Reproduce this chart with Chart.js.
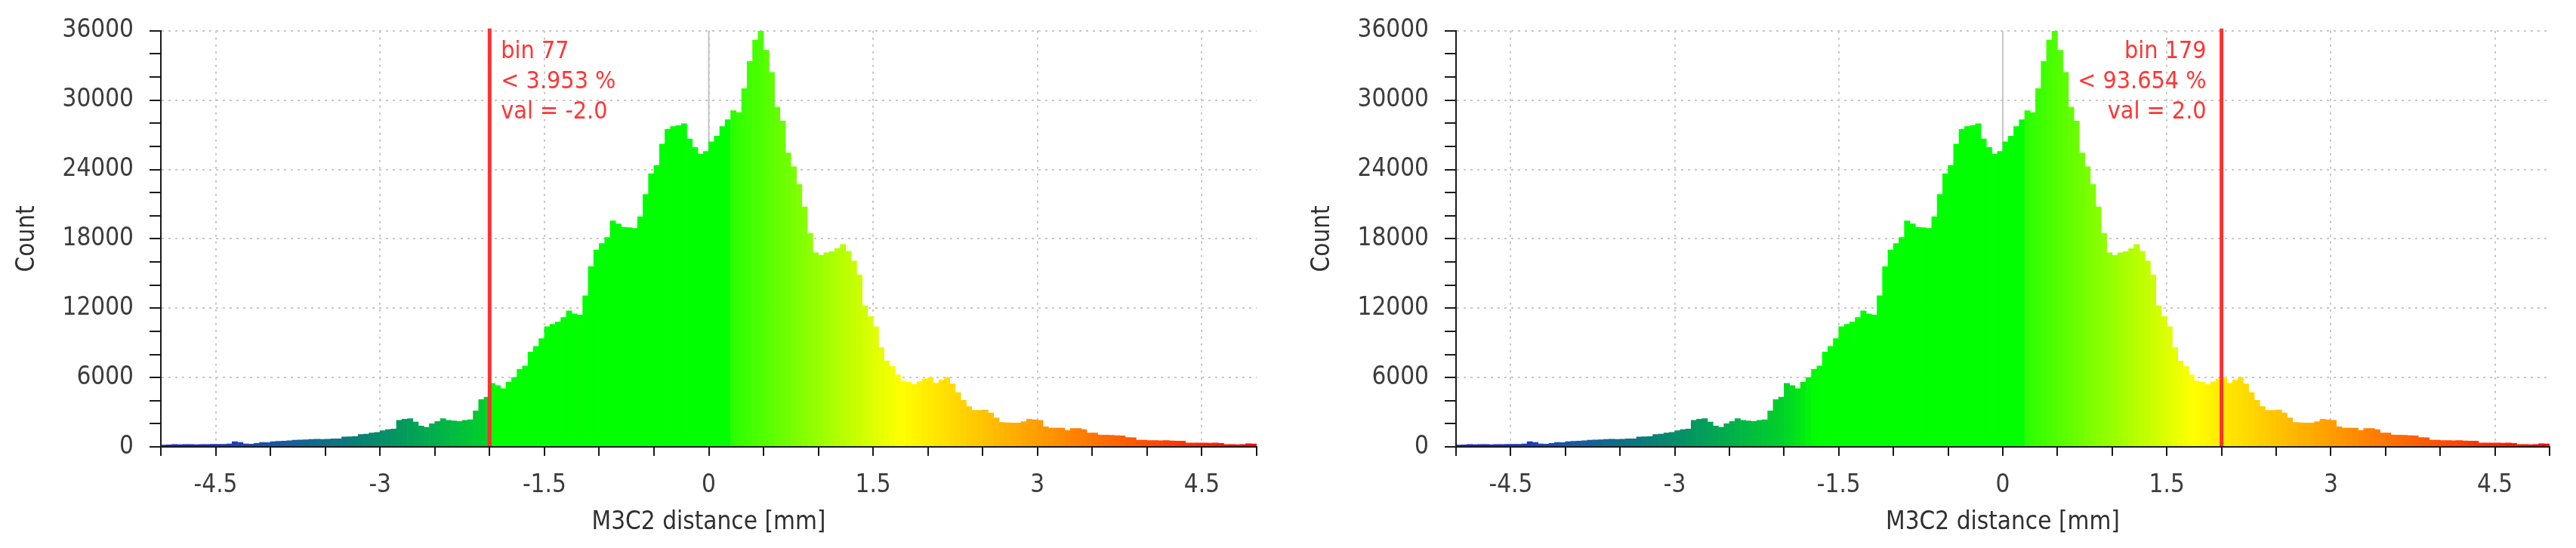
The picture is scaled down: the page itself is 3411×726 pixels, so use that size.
<!DOCTYPE html>
<html>
<head>
<meta charset="utf-8">
<title>M3C2 distance histogram</title>
<script src="https://cdn.jsdelivr.net/npm/chart.js@4.4.1/dist/chart.umd.min.js"></script>
<style>
  html, body { margin: 0; padding: 0; background: #fff; }
  body { width: 3411px; height: 726px; position: relative; overflow: hidden; }
  canvas { position: absolute; top: 0; }
  #left { left: 0; }
  #right { left: 1715px; }
</style>
</head>
<body>
<canvas id="left" width="1705" height="726"></canvas>
<canvas id="right" width="1696" height="726"></canvas>
<script>
// histogram of M3C2 distances, 0.05 mm bins from -5 to 5 (same data in both panels)
const binMin = -5;
const binWidth = 0.05;
const binCounts = [
  150, 180, 200, 190, 210, 200, 190, 210, 200, 220,
  230, 220, 250, 450, 380, 250, 240, 300, 390, 370,
  450, 480, 500, 540, 580, 600, 620, 640, 660, 650,
  670, 690, 700, 860, 870, 900, 1080, 1100, 1210, 1250,
  1400, 1500, 1550, 2300, 2400, 2450, 2150, 1800, 1700, 2000,
  2200, 2450, 2300, 2250, 2200, 2300, 2350, 3120, 4100, 4300,
  5500, 5300, 5040, 5600, 6000, 6700, 7000, 8200, 8700, 9360,
  10400, 10600, 10800, 11200, 11760, 11500, 11400, 13080, 15600, 17040,
  17600, 18120, 19560, 19300, 19000, 18960, 18900, 19920, 21840, 23640,
  24360, 26200, 27480, 27720, 27800, 27960, 26640, 25900, 25320, 25560,
  26400, 26880, 27720, 28300, 29090, 28920, 31000, 33360, 35200, 36000,
  34320, 32400, 29400, 28200, 25440, 24240, 22700, 20760, 18480, 16800,
  16560, 16800, 16900, 17160, 17520, 16920, 16080, 14880, 12200, 11280,
  10400, 8600, 7440, 6960, 6240, 5700, 5600, 5400, 5640, 5890,
  6000, 5520, 5780, 6000, 5450, 4690, 4030, 3490, 3160, 3160,
  3200, 2940, 2510, 2110, 2080, 2070, 2070, 2180, 2400, 2350,
  2290, 1740, 1630, 1630, 1630, 1420, 1590, 1590, 1500, 1200,
  1200, 1020, 1020, 1000, 980, 950, 810, 800, 590, 590,
  545, 545, 540, 545, 520, 500, 500, 330, 330, 340,
  330, 320, 330, 300, 200, 210, 190, 200, 280, 260
];
const binCenters = binCounts.map((_, i) => binMin + binWidth * (i + 0.5));

// selected threshold on each panel
const markerValues = [-2.0, 2.0];
const markerBins = [77, 179];
const markerPercents = ['3.953', '93.654'];

const yTickLabels = [0, 6000, 12000, 18000, 24000, 30000, 36000];
const xTickLabels = [-4.5, -3, -1.5, 0, 1.5, 3, 4.5];

const FONT = "'DejaVu Sans Condensed', 'Liberation Sans', sans-serif";

// colour scale blue -> green -> yellow -> red
const colourStops = [
  [-5, [30, 30, 210]], [-4.5, [30, 50, 200]], [-4, [25, 85, 170]],
  [-3.5, [15, 110, 135]], [-3, [5, 140, 105]], [-2.5, [0, 175, 75]],
  [-2, [0, 210, 40]], [-1.7, [0, 255, 0]], [0.2, [0, 255, 0]],
  [0.2001, [40, 255, 0]], [1.75, [255, 255, 0]], [5, [255, 0, 0]]
];

function scaleColour(v) {
  for (let i = 1; i < colourStops.length; i++) {
    const [v1, c1] = colourStops[i];
    const [v0, c0] = colourStops[i - 1];
    if (v <= v1) {
      const t = Math.max(0, (v - v0) / (v1 - v0));
      const c = c0.map((a, k) => Math.round(a + (c1[k] - a) * t));
      return `rgb(${c[0]},${c[1]},${c[2]})`;
    }
  }
  return 'rgb(255,0,0)';
}

function markerPlugin(k) {
  return {
    id: 'marker' + k,
    beforeDatasetsDraw(chart) {
      const {ctx, chartArea, scales: {x}} = chart;
      const px = x.getPixelForValue(0);
      ctx.save();
      ctx.strokeStyle = '#c4c4c4';
      ctx.lineWidth = 2;
      ctx.beginPath();
      ctx.moveTo(px, chartArea.top);
      ctx.lineTo(px, chartArea.bottom);
      ctx.stroke();
      ctx.restore();
    },
    afterDatasetsDraw(chart) {
      const {ctx, chartArea, scales: {x}} = chart;
      const px = x.getPixelForValue(markerValues[k]);
      ctx.save();
      ctx.strokeStyle = '#ff3030';
      ctx.lineWidth = 5;
      ctx.beginPath();
      ctx.moveTo(px, chartArea.top - 3);
      ctx.lineTo(px, chartArea.bottom);
      ctx.stroke();

      const lines = [
        'bin ' + markerBins[k],
        '< ' + markerPercents[k] + ' %',
        'val = ' + markerValues[k].toFixed(1)
      ];
      ctx.fillStyle = '#ff3535';
      ctx.font = '32px ' + FONT;
      ctx.textBaseline = 'middle';
      ctx.textAlign = k === 0 ? 'left' : 'right';
      const tx = k === 0 ? px + 15 : px - 20;
      lines.forEach((t, i) => ctx.fillText(t, tx, chartArea.top + 28 + i * 40));
      ctx.restore();
    }
  };
}

function isXLabel(v) {
  return xTickLabels.find(t => Math.abs(t - v) < 1e-6);
}

function makeChart(id, k, rightPad) {
  const colours = binCenters.map(c => {
    // left panel: bins above the threshold shown in plain green
    if (k === 0 && c > markerValues[0] && c < -1.7) return 'rgb(0,255,0)';
    return scaleColour(c);
  });

  return new Chart(document.getElementById(id), {
    type: 'bar',
    data: {
      datasets: [{
        data: binCenters.map((c, i) => ({x: c, y: binCounts[i]})),
        backgroundColor: colours,
        borderWidth: 0,
        barPercentage: 1,
        categoryPercentage: 1
      }]
    },
    options: {
      responsive: false,
      animation: false,
      layout: {padding: {top: 31, right: rightPad, bottom: 0, left: 0}},
      plugins: {legend: {display: false}, tooltip: {enabled: false}},
      scales: {
        x: {
          type: 'linear',
          min: -5,
          max: 5,
          offset: false,
          afterFit: s => { s.height = 134; },
          grid: {
            offset: false,
            lineWidth: 2,
            color: c => (c.tick && isXLabel(c.tick.value) !== undefined ? '#c8c8c8' : 'rgba(0,0,0,0)'),
            tickColor: '#1a1a1a',
            tickLength: 12,
            tickWidth: 2
          },
          border: {color: '#1a1a1a', width: 2, dash: [3, 6], z: 1},
          ticks: {
            stepSize: 0.5,
            autoSkip: false,
            maxRotation: 0,
            padding: 20,
            color: '#3c3c3c',
            font: {size: 33, family: FONT},
            callback: v => {
              const t = isXLabel(v);
              return t === undefined ? '' : String(t);
            }
          },
          title: {
            display: true,
            text: 'M3C2 distance [mm]',
            color: '#303030',
            font: {size: 33, family: FONT},
            padding: {top: 0, bottom: 14}
          }
        },
        y: {
          min: 0,
          max: 36000,
          afterFit: s => { s.width = 213; },
          grid: {
            lineWidth: 2,
            color: c => (c.tick && c.tick.value !== 0 && yTickLabels.includes(c.tick.value) ? '#c8c8c8' : 'rgba(0,0,0,0)'),
            tickColor: '#1a1a1a',
            tickLength: 15,
            tickWidth: 2
          },
          border: {color: '#1a1a1a', width: 2, dash: [3, 6], z: 1},
          ticks: {
            stepSize: 2000,
            autoSkip: false,
            padding: 21,
            color: '#3c3c3c',
            font: {size: 33, family: FONT},
            callback: v => (yTickLabels.includes(v) ? String(v) : '')
          },
          title: {
            display: true,
            text: 'Count',
            color: '#303030',
            font: {size: 33, family: FONT},
            padding: {top: 17, bottom: 0}
          }
        }
      }
    },
    plugins: [markerPlugin(k)]
  });
}

makeChart('left', 0, 41);
makeChart('right', 1, 35);
</script>
</body>
</html>
